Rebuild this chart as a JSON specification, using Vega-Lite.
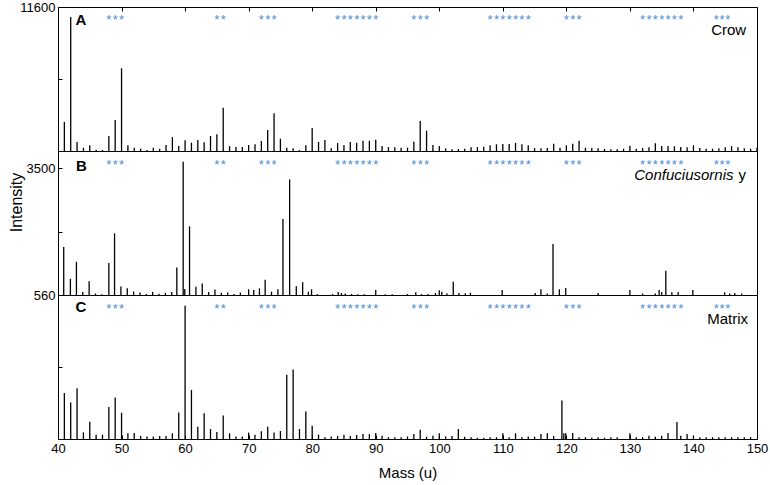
{
  "$schema": "https://vega.github.io/schema/vega-lite/v6.json",
  "padding": {"left": 7, "top": 0, "right": 2, "bottom": 0},
  "spacing": 0,
  "bounds": "flush",
  "resolve": {"scale": {"y": "independent"}},
  "config": {
    "font": "Liberation Sans",
    "view": {"stroke": "#000", "strokeWidth": 1},
    "axis": {"domain": false, "grid": false, "tickColor": "#000", "tickSize": -4, "tickWidth": 1, "labelColor": "#000", "labelFontSize": 13, "titleColor": "#000", "titleFontSize": 15, "titleFontWeight": "normal", "labelFlush": false, "labelFont": "Liberation Sans", "titleFont": "Liberation Sans"}
  },
  "datasets": {
    "crow": [
      {"mass":41,"intensity":2340},{"mass":42,"intensity":10800},{"mass":43,"intensity":725},{"mass":44,"intensity":265},{"mass":45,"intensity":460},{"mass":46,"intensity":100},{"mass":47,"intensity":80},{"mass":48,"intensity":1210},{"mass":49,"intensity":2500},{"mass":50,"intensity":6660},
      {"mass":51,"intensity":460},{"mass":52,"intensity":265},{"mass":53,"intensity":185},{"mass":54,"intensity":80},{"mass":55,"intensity":265},{"mass":56,"intensity":185},{"mass":57,"intensity":485},{"mass":58,"intensity":1130},{"mass":59,"intensity":400},{"mass":60,"intensity":860},
      {"mass":61,"intensity":670},{"mass":62,"intensity":885},{"mass":63,"intensity":700},{"mass":64,"intensity":1210},{"mass":65,"intensity":1345},{"mass":66,"intensity":3490},{"mass":67,"intensity":400},{"mass":68,"intensity":320},{"mass":69,"intensity":320},{"mass":70,"intensity":485},
      {"mass":71,"intensity":540},{"mass":72,"intensity":805},{"mass":73,"intensity":1690},{"mass":74,"intensity":3035},{"mass":75,"intensity":990},{"mass":76,"intensity":265},{"mass":77,"intensity":215},{"mass":78,"intensity":80},{"mass":79,"intensity":460},{"mass":80,"intensity":1850},
      {"mass":81,"intensity":725},{"mass":82,"intensity":885},{"mass":83,"intensity":215},{"mass":84,"intensity":645},{"mass":85,"intensity":485},{"mass":86,"intensity":725},{"mass":87,"intensity":670},{"mass":88,"intensity":830},{"mass":89,"intensity":830},{"mass":90,"intensity":910},
      {"mass":91,"intensity":400},{"mass":92,"intensity":320},{"mass":93,"intensity":300},{"mass":94,"intensity":265},{"mass":95,"intensity":265},{"mass":96,"intensity":750},{"mass":97,"intensity":2420},{"mass":98,"intensity":1635},{"mass":99,"intensity":485},{"mass":100,"intensity":400},
      {"mass":101,"intensity":215},{"mass":102,"intensity":135},{"mass":103,"intensity":160},{"mass":104,"intensity":185},{"mass":105,"intensity":300},{"mass":106,"intensity":320},{"mass":107,"intensity":345},{"mass":108,"intensity":460},{"mass":109,"intensity":540},{"mass":110,"intensity":565},
      {"mass":111,"intensity":565},{"mass":112,"intensity":645},{"mass":113,"intensity":540},{"mass":114,"intensity":460},{"mass":115,"intensity":240},{"mass":116,"intensity":215},{"mass":117,"intensity":240},{"mass":118,"intensity":590},{"mass":119,"intensity":265},{"mass":120,"intensity":460},
      {"mass":121,"intensity":590},{"mass":122,"intensity":830},{"mass":123,"intensity":265},{"mass":124,"intensity":240},{"mass":125,"intensity":215},{"mass":126,"intensity":160},{"mass":127,"intensity":135},{"mass":128,"intensity":135},{"mass":129,"intensity":185},{"mass":130,"intensity":425},
      {"mass":131,"intensity":185},{"mass":132,"intensity":240},{"mass":133,"intensity":300},{"mass":134,"intensity":620},{"mass":135,"intensity":400},{"mass":136,"intensity":400},{"mass":137,"intensity":380},{"mass":138,"intensity":320},{"mass":139,"intensity":300},{"mass":140,"intensity":460},
      {"mass":141,"intensity":240},{"mass":142,"intensity":185},{"mass":143,"intensity":185},{"mass":144,"intensity":215},{"mass":145,"intensity":300},{"mass":146,"intensity":400},{"mass":147,"intensity":300},{"mass":148,"intensity":215},{"mass":149,"intensity":185},{"mass":150,"intensity":265}
    ],
    "confuciusornis": [
      {"mass":40.9,"intensity":1673},{"mass":41.95,"intensity":936},{"mass":42.9,"intensity":1330},{"mass":43.9,"intensity":630},{"mass":44.9,"intensity":878},{"mass":45.9,"intensity":595},{"mass":46.9,"intensity":580},{"mass":48.0,"intensity":1302},{"mass":48.9,"intensity":1989},{"mass":49.9,"intensity":757},
      {"mass":50.9,"intensity":718},{"mass":51.9,"intensity":641},{"mass":52.9,"intensity":620},{"mass":53.9,"intensity":583},{"mass":54.9,"intensity":630},{"mass":55.9,"intensity":590},{"mass":56.9,"intensity":611},{"mass":57.9,"intensity":630},{"mass":58.7,"intensity":1200},{"mass":59.7,"intensity":3651},
      {"mass":59.95,"intensity":700},{"mass":60.7,"intensity":2151},{"mass":61.7,"intensity":752},{"mass":62.7,"intensity":827},{"mass":63.7,"intensity":630},{"mass":64.7,"intensity":688},{"mass":65.7,"intensity":613},{"mass":66.7,"intensity":618},{"mass":67.7,"intensity":583},{"mass":68.7,"intensity":618},
      {"mass":70.0,"intensity":692},{"mass":70.8,"intensity":676},{"mass":71.7,"intensity":715},{"mass":72.6,"intensity":915},{"mass":73.6,"intensity":637},{"mass":74.6,"intensity":695},{"mass":75.4,"intensity":2322},{"mass":76.45,"intensity":3241},{"mass":77.5,"intensity":764},{"mass":78.5,"intensity":857},
      {"mass":79.4,"intensity":637},{"mass":79.9,"intensity":692},{"mass":80.8,"intensity":583},{"mass":83.2,"intensity":583},{"mass":84.1,"intensity":630},{"mass":84.6,"intensity":606},{"mass":85.2,"intensity":595},{"mass":86.2,"intensity":583},{"mass":87.2,"intensity":579},{"mass":88.2,"intensity":579},
      {"mass":90.0,"intensity":676},{"mass":91.5,"intensity":579},{"mass":92.6,"intensity":575},{"mass":95.0,"intensity":583},{"mass":96.3,"intensity":623},{"mass":97.2,"intensity":583},{"mass":98.2,"intensity":583},{"mass":99.4,"intensity":606},{"mass":100.0,"intensity":669},{"mass":100.4,"intensity":637},
      {"mass":101.2,"intensity":600},{"mass":102.2,"intensity":865},{"mass":103.1,"intensity":606},{"mass":104.1,"intensity":600},{"mass":104.9,"intensity":613},{"mass":109.9,"intensity":676},{"mass":115.1,"intensity":606},{"mass":116.0,"intensity":692},{"mass":117.0,"intensity":595},{"mass":117.9,"intensity":1743},
      {"mass":118.9,"intensity":692},{"mass":119.9,"intensity":722},{"mass":125.0,"intensity":606},{"mass":130.0,"intensity":676},{"mass":132.0,"intensity":595},{"mass":134.0,"intensity":595},{"mass":134.6,"intensity":676},{"mass":135.0,"intensity":630},{"mass":135.65,"intensity":1124},{"mass":136.6,"intensity":623},
      {"mass":137.6,"intensity":630},{"mass":139.9,"intensity":676},{"mass":144.9,"intensity":623},{"mass":145.7,"intensity":595},{"mass":146.5,"intensity":606},{"mass":147.6,"intensity":595}
    ],
    "matrix": [
      {"mass":41,"intensity":179},{"mass":42,"intensity":142},{"mass":43,"intensity":197},{"mass":44,"intensity":26},{"mass":45,"intensity":67},{"mass":46,"intensity":17},{"mass":47,"intensity":17},{"mass":48,"intensity":124},{"mass":49,"intensity":161},{"mass":50,"intensity":102},
      {"mass":51,"intensity":22},{"mass":52,"intensity":23},{"mass":53,"intensity":12},{"mass":54,"intensity":10},{"mass":55,"intensity":10},{"mass":56,"intensity":12},{"mass":57,"intensity":12},{"mass":58,"intensity":22},{"mass":59,"intensity":103},{"mass":60,"intensity":518},
      {"mass":61,"intensity":191},{"mass":62,"intensity":48},{"mass":63,"intensity":100},{"mass":64,"intensity":39},{"mass":65,"intensity":27},{"mass":66,"intensity":91},{"mass":67,"intensity":22},{"mass":68,"intensity":10},{"mass":69,"intensity":10},{"mass":70,"intensity":25},
      {"mass":71,"intensity":17},{"mass":72,"intensity":30},{"mass":73,"intensity":48},{"mass":74,"intensity":25},{"mass":75,"intensity":31},{"mass":76,"intensity":250},{"mass":77,"intensity":270},{"mass":78,"intensity":39},{"mass":79,"intensity":107},{"mass":80,"intensity":52},
      {"mass":81,"intensity":17},{"mass":82,"intensity":7},{"mass":83,"intensity":10},{"mass":84,"intensity":12},{"mass":85,"intensity":17},{"mass":86,"intensity":12},{"mass":87,"intensity":16},{"mass":88,"intensity":19},{"mass":89,"intensity":19},{"mass":90,"intensity":23},
      {"mass":91,"intensity":13},{"mass":92,"intensity":7},{"mass":93,"intensity":7},{"mass":94,"intensity":7},{"mass":95,"intensity":10},{"mass":96,"intensity":19},{"mass":97,"intensity":36},{"mass":98,"intensity":9},{"mass":99,"intensity":13},{"mass":100,"intensity":22},
      {"mass":101,"intensity":10},{"mass":102,"intensity":12},{"mass":103,"intensity":39},{"mass":104,"intensity":9},{"mass":105,"intensity":7},{"mass":106,"intensity":5},{"mass":107,"intensity":5},{"mass":108,"intensity":7},{"mass":109,"intensity":7},{"mass":110,"intensity":22},
      {"mass":111,"intensity":7},{"mass":112,"intensity":22},{"mass":113,"intensity":7},{"mass":114,"intensity":10},{"mass":115,"intensity":9},{"mass":116,"intensity":19},{"mass":117,"intensity":22},{"mass":118,"intensity":12},{"mass":119.3,"intensity":150},{"mass":119.6,"intensity":22},
      {"mass":119.9,"intensity":22},{"mass":121,"intensity":23},{"mass":122,"intensity":7},{"mass":123,"intensity":7},{"mass":124,"intensity":5},{"mass":125,"intensity":7},{"mass":126,"intensity":5},{"mass":127,"intensity":7},{"mass":128,"intensity":7},{"mass":130,"intensity":22},
      {"mass":131,"intensity":7},{"mass":132,"intensity":7},{"mass":133,"intensity":13},{"mass":134,"intensity":9},{"mass":135,"intensity":13},{"mass":136,"intensity":23},{"mass":137.4,"intensity":66},{"mass":138,"intensity":13},{"mass":139,"intensity":19},{"mass":140,"intensity":12},
      {"mass":141,"intensity":7},{"mass":142,"intensity":7},{"mass":143,"intensity":7},{"mass":144,"intensity":7},{"mass":145,"intensity":7},{"mass":146,"intensity":7},{"mass":147,"intensity":7},{"mass":148,"intensity":7},{"mass":149,"intensity":7}
    ],
    "stars": [
      {"mass":48},{"mass":49},{"mass":50},{"mass":65},{"mass":66},{"mass":72},{"mass":73},{"mass":74},
      {"mass":84},{"mass":85},{"mass":86},{"mass":87},{"mass":88},{"mass":89},{"mass":90},
      {"mass":96},{"mass":97},{"mass":98},
      {"mass":108},{"mass":109},{"mass":110},{"mass":111},{"mass":112},{"mass":113},{"mass":114},
      {"mass":120},{"mass":121},{"mass":122},
      {"mass":132},{"mass":133},{"mass":134},{"mass":135},{"mass":136},{"mass":137},{"mass":138},
      {"mass":143.6},{"mass":144.5},{"mass":145.4}
    ]
  },
  "vconcat": [
    {
      "width": 699, "height": 144,
      "layer": [
        {
          "data": {"name": "crow"},
          "mark": {"type": "rule", "color": "#000", "strokeWidth": 1.3},
          "encoding": {
            "x": {"field": "mass", "type": "quantitative", "scale": {"domain": [40, 150], "nice": false, "zero": false},
                  "axis": {"orient": "top", "values": [40,45,50,55,60,65,70,75,80,85,90,95,100,105,110,115,120,125,130,135,140,145,150], "labels": false, "title": null}},
            "y": {"field": "intensity", "type": "quantitative", "scale": {"domain": [0, 11600], "nice": false},
                  "axis": {"orient": "left", "values": [0, 5800, 11600], "labelExpr": "datum.value == 11600 ? '11600' : ''", "labelPadding": 7, "title": null}},
            "y2": {"datum": 0}
          }
        },
        {
          "data": {"name": "stars"},
          "mark": {"type": "text", "text": "*", "color": "#4a8ed6", "fontSize": 13, "baseline": "middle", "dy": 3},
          "encoding": {
            "x": {"field": "mass", "type": "quantitative"},
            "y": {"datum": 10800, "type": "quantitative"}
          }
        },
        {
          "data": {"values": [{"panel": "A"}]},
          "mark": {"type": "text", "text": "A", "fontWeight": "bold", "fontSize": 15, "align": "center", "baseline": "middle"},
          "encoding": {"x": {"datum": 43.6, "type": "quantitative"}, "y": {"datum": 10553, "type": "quantitative"}}
        },
        {
          "data": {"values": [{"panel": "A"}]},
          "mark": {"type": "text", "text": "Crow", "fontSize": 15, "align": "right", "baseline": "middle"},
          "encoding": {"x": {"datum": 148.3, "type": "quantitative"}, "y": {"datum": 9748, "type": "quantitative"}}
        }
      ]
    },
    {
      "width": 699, "height": 144,
      "layer": [
        {
          "data": {"name": "confuciusornis"},
          "mark": {"type": "rule", "color": "#000", "strokeWidth": 1.3},
          "encoding": {
            "x": {"field": "mass", "type": "quantitative", "scale": {"domain": [40, 150], "nice": false, "zero": false}, "axis": null},
            "y": {"field": "intensity", "type": "quantitative", "scale": {"domain": [560, 3900], "nice": false, "zero": false},
                  "axis": {"orient": "left", "values": [560, 2030, 3500], "format": "d", "labelExpr": "datum.value == 2030 ? '' : datum.label", "labelPadding": 7, "title": "Intensity", "titleFontSize": 16, "titlePadding": 2, "titleY": 51}},
            "y2": {"datum": 560}
          }
        },
        {
          "data": {"name": "stars"},
          "mark": {"type": "text", "text": "*", "color": "#4a8ed6", "fontSize": 13, "baseline": "middle", "dy": 3},
          "encoding": {
            "x": {"field": "mass", "type": "quantitative"},
            "y": {"datum": 3650, "type": "quantitative"}
          }
        },
        {
          "data": {"values": [{"panel": "B"}]},
          "mark": {"type": "text", "text": "B", "fontWeight": "bold", "fontSize": 15, "align": "center", "baseline": "middle"},
          "encoding": {"x": {"datum": 43.7, "type": "quantitative"}, "y": {"datum": 3558, "type": "quantitative"}}
        },
        {
          "data": {"values": [{"panel": "B"}]},
          "mark": {"type": "text", "text": "Confuciusornis", "fontStyle": "italic", "fontSize": 15, "align": "right", "baseline": "middle"},
          "encoding": {"x": {"datum": 146.3, "type": "quantitative"}, "y": {"datum": 3350, "type": "quantitative"}}
        },
        {
          "data": {"values": [{"panel": "B"}]},
          "mark": {"type": "text", "text": "y", "fontSize": 15, "align": "left", "baseline": "middle"},
          "encoding": {"x": {"datum": 147.1, "type": "quantitative"}, "y": {"datum": 3350, "type": "quantitative"}}
        }
      ]
    },
    {
      "width": 699, "height": 144,
      "layer": [
        {
          "data": {"name": "matrix"},
          "mark": {"type": "rule", "color": "#000", "strokeWidth": 1.3},
          "encoding": {
            "x": {"field": "mass", "type": "quantitative", "scale": {"domain": [40, 150], "nice": false, "zero": false},
                  "axis": {"orient": "bottom", "values": [40,45,50,55,60,65,70,75,80,85,90,95,100,105,110,115,120,125,130,135,140,145,150], "labelExpr": "datum.value % 10 == 0 ? datum.label : ''", "labelPadding": 7, "title": "Mass (u)", "titlePadding": 10}},
            "y": {"field": "intensity", "type": "quantitative", "scale": {"domain": [0, 560], "nice": false},
                  "axis": {"orient": "left", "values": [0, 280, 560], "labels": false, "labelExpr": "''", "labelOpacity": 0, "title": null}},
            "y2": {"datum": 0}
          }
        },
        {
          "data": {"name": "stars"},
          "mark": {"type": "text", "text": "*", "color": "#4a8ed6", "fontSize": 13, "baseline": "middle", "dy": 3},
          "encoding": {
            "x": {"field": "mass", "type": "quantitative"},
            "y": {"datum": 518, "type": "quantitative"}
          }
        },
        {
          "data": {"values": [{"panel": "C"}]},
          "mark": {"type": "text", "text": "C", "fontWeight": "bold", "fontSize": 15, "align": "center", "baseline": "middle"},
          "encoding": {"x": {"datum": 43.6, "type": "quantitative"}, "y": {"datum": 513, "type": "quantitative"}}
        },
        {
          "data": {"values": [{"panel": "C"}]},
          "mark": {"type": "text", "text": "Matrix", "fontSize": 15, "align": "right", "baseline": "middle"},
          "encoding": {"x": {"datum": 148.6, "type": "quantitative"}, "y": {"datum": 468, "type": "quantitative"}}
        }
      ]
    }
  ]
}
